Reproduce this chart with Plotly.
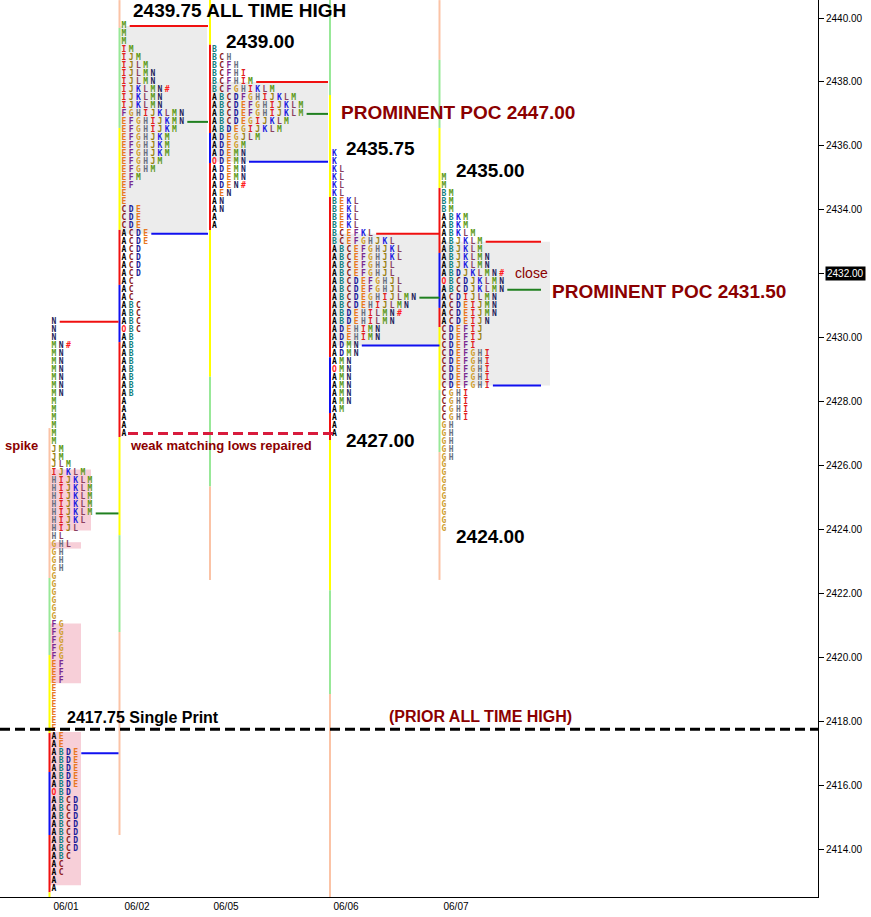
import plotly.graph_objects as go

# ---------------- data ----------------
dates = ["06/01", "06/02", "06/05", "06/06", "06/07"]
TICK = 0.25

highs = [2430.50, 2439.75, 2439.00, 2435.75, 2435.00]
vah = [2430.50, 2439.75, 2438.00, 2433.25, 2433.00]
poc = [2424.50, 2436.75, 2437.00, 2431.25, 2431.50]
val = [2417.00, 2433.25, 2435.50, 2429.75, 2428.50]
close_price = 2432.00
prior_ath = 2417.75
weak_low = 2427.00

d1_rows = (["N", "N", "N", "MN#"] + ["MN"] * 6 + ["M"] * 6 +
           ["JM", "JM", "JLM", "IJKLM"] + ["HIJKLM"] * 5 +
           ["HIJKL", "HIJL", "HL", "GHL"] + ["GH"] * 3 + ["G"] * 6 +
           ["FG"] * 5 + ["EF"] * 3 + ["E"] * 6 + ["AE", "AE"] +
           ["ABDE"] * 5 + ["OBD"] + ["ABCD"] * 7 + ["ABC", "AC", "AC", "A", "A"])

d2_rows = (["M", "M", "M", "IM", "IJM", "IJLM", "IJLMN", "IJLMN", "IJKLMN#",
            "IJKLMN", "IJKLMN", "FGHIJKLMN", "EFGHIJKMN", "EFGHIJKM",
            "EFGHJKM", "EFGHJKM", "EFGHJKM", "EFGHJM", "EFGHM", "EFM", "EF",
            "E", "E", "CDE", "CDE", "CDE", "ACDE", "ACDE"] + ["ACD"] * 4 +
           ["AC"] * 3 + ["ABC"] * 3 + ["OBC"] + ["AB"] * 8 + ["A"] * 5)

d3_rows = ["B", "BCH", "BCFH", "BCFHI", "BCFHIM", "BCFGHIKLM", "ABCDFGHIJKLM",
           "ABCDEFGHIJKLM", "ABCDEFGHIJKLM", "ABCDEGIJKLM", "ABDEGIJKLM",
           "ADEGJLM", "ADEGM", "ADEMN", "ODEMN", "ADEMN", "ADEMN", "ADEN#",
           "AEN", "AN", "AN", "A", "A"]

d4_rows = (["K", "K", "KL", "KL", "KL", "KL", "BEKL", "BEKL", "BEKL", "BEKL",
            "BCEFKL", "BCEFGHJKL", "ABCEFGHJKL", "ABCEFGHJKL", "ABCEFGHJL",
            "ABCEFGHJL", "ABCDEFGHJL", "ABCDEFGHJL", "ABCDEGHIJLMN",
            "ABCDEHIJLMN", "ABDEHILMN#", "ABDEHILMN", "ADEHIMN", "ADEHIMN",
            "ADMN", "ADMN", "AMN", "OMN", "AMN", "AMN", "AMN", "AMN", "AM",
            "A", "A", "A"])

d5_rows = (["M", "M", "BM", "BM", "BM", "ABKM", "ABKM", "ABKLM", "ABJKLM",
            "ABJKLM", "ABJKLMN", "ABJKLMN", "ABDJKLMN#", "OBCDJKLMN",
            "ABCDJKLMN", "ACDIJLMN", "ACDEIJMN", "ACDEIJMN", "ACDEIJN",
            "CDEFIJ", "CDEFIJ", "CDEFI"] + ["CDEFGHI"] * 5 + ["CGHI"] * 4 +
           ["GH"] * 5 + ["G"] * 9)

profiles = [d1_rows, d2_rows, d3_rows, d4_rows, d5_rows]

# colored range bands on each day's left edge: (top, bottom, band)
d1_bands = [(2427.17, 2422.48, "S"), (2422.48, 2420.07, "G"), (2420.07, 2417.63, "Y"),
            (2417.63, 2416.41, "R"), (2416.41, 2414.44, "B"), (2414.44, 2412.65, "R"),
            (2412.65, 2412.50, "Y")]
d2_bands = [(2440.56, 2439.69, "S"), (2439.69, 2436.56, "G"), (2436.56, 2433.37, "Y"),
            (2433.37, 2431.65, "R"), (2431.65, 2429.86, "B"), (2429.86, 2426.89, "R"),
            (2426.89, 2423.82, "Y"), (2423.82, 2420.79, "G"), (2420.79, 2414.44, "S")]
d3_bands = [(2440.56, 2439.16, "Y"), (2439.16, 2436.40, "R"), (2436.40, 2435.46, "B"),
            (2435.46, 2433.37, "R"), (2433.37, 2428.78, "Y"), (2428.78, 2425.34, "G"),
            (2425.34, 2422.42, "S")]
d4_bands = [(2440.56, 2437.59, "G"), (2437.59, 2434.40, "Y"), (2434.40, 2429.39, "R"),
            (2429.39, 2427.64, "B"), (2427.64, 2426.80, "R"), (2426.80, 2422.10, "Y"),
            (2422.10, 2418.85, "G"), (2418.85, 2412.50, "S")]
d5_bands = [(2440.56, 2438.69, "S"), (2438.69, 2436.56, "G"), (2436.56, 2434.68, "Y"),
            (2434.68, 2432.65, "R"), (2432.65, 2430.93, "B"), (2430.93, 2430.33, "R"),
            (2430.33, 2428.36, "Y"), (2428.36, 2426.42, "G"), (2426.42, 2422.42, "S")]
bands = [d1_bands, d2_bands, d3_bands, d4_bands, d5_bands]

# pink low-volume zones on day 1 (top, bottom)
pink_zones = [(2425.875, 2423.97), (2423.60, 2423.40), (2421.06, 2419.19), (2417.66, 2412.87)]

# ---------------- layout / style ----------------
W, H = 871, 917
PLOT_R = 818
line_x = [49.5, 119.5, 210.0, 330.0, 439.5]
STEP = 7.2
FIRST = 4.5
va_end = [118.5, 208.0, 328.0, 439.5, 541.0]
box_right = [None, 207.0, 328.0, 439.5, 550.0]
pink_right = [91, 81, 81, 81]
date_x = [66, 137, 226, 346, 456]

letter_colors = {
    "A": "#000000", "B": "#128080", "C": "#8B1A1A", "D": "#1A1A9A",
    "E": "#E87820", "F": "#7A2A90", "G": "#D0A030", "H": "#6A7080",
    "I": "#E02020", "J": "#9A8010", "K": "#2020E0", "L": "#8A4060",
    "M": "#5E9A18", "N": "#23235A", "O": "#FF2020", "#": "#FF2020",
}
band_colors = {"S": "#FBC3A6", "G": "#98E898", "Y": "#FFFF00", "R": "#F01010", "B": "#1010F0"}

LABEL_FONT = "Arial, Liberation Sans, sans-serif"
DARKRED = "#8B0000"

fig = go.Figure()
shapes = []

# value area boxes
for i in range(1, 5):
    shapes.append(dict(type="rect", xref="x", yref="y", x0=line_x[i], x1=box_right[i],
                       y0=val[i], y1=vah[i], fillcolor="#ECECEC", line=dict(width=0),
                       layer="below"))
# day 1 pink zones
for (t, b), r in zip(pink_zones, pink_right):
    shapes.append(dict(type="rect", xref="x", yref="y", x0=line_x[0] + 0.5, x1=r,
                       y0=b, y1=t, fillcolor="#F7CFD8", line=dict(width=0), layer="below"))

# colored band lines
for i, segs in enumerate(bands):
    for t, b, k in segs:
        shapes.append(dict(type="line", xref="x", yref="y", x0=line_x[i], x1=line_x[i],
                           y0=b, y1=t, line=dict(color=band_colors[k], width=2)))

# value area lines (VAH red, POC green, VAL blue)
def row_at(i, price):
    idx = int(round((highs[i] - price) / TICK))
    return profiles[i][idx]

for i in range(5):
    for price, col in ((vah[i], "#F01010"), (poc[i], "#208020"), (val[i], "#1010F0")):
        n = len(row_at(i, price))
        x0 = line_x[i] + FIRST + n * STEP - 1.5
        shapes.append(dict(type="line", xref="x", yref="y", x0=x0, x1=va_end[i],
                           y0=price, y1=price, line=dict(color=col, width=2)))

# prior all time high dashed black line
shapes.append(dict(type="line", xref="x", yref="y", x0=0, x1=PLOT_R, y0=prior_ath, y1=prior_ath,
                   line=dict(color="black", width=3, dash="10px,5px")))
# weak matching lows dashed red line
shapes.append(dict(type="line", xref="x", yref="y", x0=line_x[1] + FIRST + 4, x1=line_x[3] + FIRST,
                   y0=weak_low, y1=weak_low,
                   line=dict(color="#D81B3C", width=3, dash="10px,5px")))

# TPO letters
pts = {}
for i, rows in enumerate(profiles):
    for r, s in enumerate(rows):
        price = highs[i] - r * TICK
        for c, ch in enumerate(s):
            pts.setdefault(ch, ([], []))
            pts[ch][0].append(line_x[i] + FIRST + c * STEP)
            pts[ch][1].append(price)
for ch, (xs, ys) in pts.items():
    fig.add_trace(go.Scatter(
        x=xs, y=ys, mode="text", text=[ch] * len(xs), textposition="middle center",
        textfont=dict(family="DejaVu Sans Mono, Liberation Mono, monospace", size=8,
                      color=letter_colors[ch], weight="bold"),
        hoverinfo="skip", showlegend=False))

# close price marker on the axis
fig.add_trace(go.Scatter(x=[PLOT_R + 4], y=[close_price], mode="markers",
                         marker=dict(symbol="triangle-left", size=9, color="black"),
                         cliponaxis=False, hoverinfo="skip", showlegend=False))

annotations = []
def label(text, x, y, size=19, color="black", bold=True, xanchor="left"):
    annotations.append(dict(text=("<b>%s</b>" % text) if bold else text, x=x, y=y,
                            xref="x", yref="y", showarrow=False, xanchor=xanchor,
                            yanchor="middle", font=dict(family=LABEL_FONT, size=size, color=color)))

label("2439.75 ALL TIME HIGH", 131, highs[1] + 0.47)
label("2439.00", 224, highs[2] + 0.25)
label("PROMINENT POC 2447.00", 339, poc[2] + 0.03, color=DARKRED)
label("2435.75", 344, highs[3] + 0.18)
label("2435.00", 454, highs[4] + 0.24)
label("close", 513, close_price + 0.02, size=14, color=DARKRED, bold=False)
label("PROMINENT POC 2431.50", 550, poc[4] - 0.07, color=DARKRED)
label("spike", 3, 2426.64, size=13, color=DARKRED)
label("weak matching lows repaired", 128, weak_low - 0.36, size=13, color=DARKRED)
label("2427.00", 344, weak_low - 0.23)
label("2424.00", 454, 2424.00 - 0.21)
label("2417.75 Single Print", 65, prior_ath + 0.38, size=16)
label("(PRIOR ALL TIME HIGH)", 387, prior_ath + 0.41, size=16, color=DARKRED)

annotations.append(dict(text="%.2f" % close_price, x=1, xref="paper", xshift=7, y=close_price,
                        yref="y", xanchor="left", yanchor="middle", showarrow=False,
                        bgcolor="black", borderpad=1,
                        font=dict(family=LABEL_FONT, size=10, color="white")))

y_lo = 2412.50
y_hi = 2440.563

fig.update_layout(
    width=W, height=H, margin=dict(l=0, r=W - PLOT_R, t=0, b=20),
    paper_bgcolor="white", plot_bgcolor="white",
    shapes=shapes, annotations=annotations, showlegend=False,
    xaxis=dict(range=[0, PLOT_R], showgrid=False, zeroline=False,
               tickmode="array", tickvals=date_x, ticktext=dates, ticks="",
               tickfont=dict(family=LABEL_FONT, size=10, color="black"),
               showline=True, linecolor="black", linewidth=1),
    yaxis=dict(range=[y_lo, y_hi], side="right", showgrid=False, zeroline=False,
               tickmode="linear", tick0=2414, dtick=2, tickformat=".2f",
               ticks="outside", ticklen=5, tickcolor="black",
               tickfont=dict(family=LABEL_FONT, size=10, color="black"),
               showline=True, linecolor="black", linewidth=1),
)

fig.write_html("out.html", config={"displayModeBar": False},
               post_script="document.body.style.margin='0px';document.body.style.padding='0px';")
